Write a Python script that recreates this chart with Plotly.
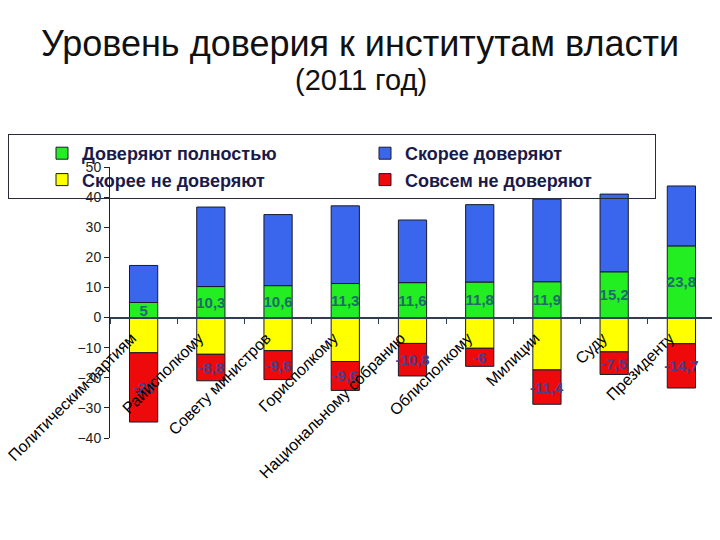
import plotly.graph_objects as go

categories = ["Политическим партиям", "Райисполкому", "Совету министров", "Горисполкому",
              "Национальному собранию", "Облисполкому", "Милиции", "Суду", "Президенту"]
trust_fully = [5, 10.3, 10.6, 11.3, 11.6, 11.8, 11.9, 15.2, 23.8]
rather_trust = [12.3, 26.4, 23.6, 25.8, 20.8, 25.7, 27.4, 25.8, 19.9]
rather_distrust = [-11.7, -12.2, -11.0, -14.6, -8.6, -10.2, -17.4, -11.4, -8.7]
fully_distrust = [-23, -8.8, -9.6, -9.6, -10.8, -6, -11.4, -7.5, -14.7]
y_ticks = [-40, -30, -20, -10, 0, 10, 20, 30, 40, 50]

def fmt(vals):
    return [("%g" % v).replace(".", ",") for v in vals]

FONT = "Liberation Sans, Arial, sans-serif"
line = dict(color="#1a1a2a", width=1)

fig = go.Figure()
fig.add_trace(go.Bar(x=categories, y=trust_fully, name="Доверяют полностью",
                     marker=dict(color="#22ee22", line=line),
                     text=fmt(trust_fully), textposition="inside", insidetextanchor="middle",
                     textangle=0, constraintext="none",
                     textfont=dict(family=FONT, size=15, color="#1f6b6b", weight="bold")))
fig.add_trace(go.Bar(x=categories, y=rather_trust, name="Скорее доверяют",
                     marker=dict(color="#3a66ee", line=line)))
fig.add_trace(go.Bar(x=categories, y=rather_distrust, name="Скорее не доверяют",
                     marker=dict(color="#ffff00", line=line)))
fig.add_trace(go.Bar(x=categories, y=fully_distrust, name="Совсем не доверяют",
                     marker=dict(color="#ee0a0a", line=line),
                     text=fmt(fully_distrust), textposition="inside", insidetextanchor="middle",
                     textangle=0, constraintext="none",
                     textfont=dict(family=FONT, size=15, color="#4a3f8f", weight="bold")))

# plot area in figure pixels
L, R, T, B = 102, 707, 159, 430
W, H = R - L, B - T
ymin, ymax = -40, 50
fig.update_layout(
    width=720, height=540,
    barmode="relative", bargap=0.58,
    paper_bgcolor="white", plot_bgcolor="white",
    margin=dict(l=L, r=720 - R, t=T, b=540 - B, autoexpand=False),
    font=dict(family=FONT, color="#222"),
    title=dict(text="Уровень доверия к институтам власти",
               x=(360 - 8) / 720, xanchor="center", xref="container",
               y=1 - 35 / 540, yanchor="middle", yref="container",
               font=dict(family=FONT, size=36, color="#111")),
    annotations=[dict(text="(2011 год)", xref="paper", yref="paper",
                      x=(353 - L) / W, y=(B - 72) / H,
                      xanchor="center", yanchor="middle", showarrow=False,
                      font=dict(family=FONT, size=29, color="#111"))],
    legend=dict(orientation="h", x=-L / W, xanchor="left", y=(B - 126) / H, yanchor="top",
                bgcolor="rgba(255,255,255,0)", bordercolor="#2a2a3a", borderwidth=1,
                entrywidth=245, entrywidthmode="pixels", indentation=33,
                font=dict(family=FONT, size=18, color="#1a1a4a", weight="bold"),
                traceorder="normal"),
    showlegend=True,
    xaxis=dict(anchor="free", position=(0 - ymin) / (ymax - ymin),
               showline=True, linecolor="#2f3f4f", linewidth=2,
               ticks="outside", tickson="boundaries", ticklen=5, tickcolor="#2f3f4f",
               tickangle=-45, ticklabelshift=-12, ticklabelstandoff=4,
               tickfont=dict(family=FONT, size=16, color="#000"),
               showgrid=False, zeroline=False),
    yaxis=dict(range=[ymin, ymax], tickvals=y_ticks, showline=True, linecolor="#222",
               linewidth=1, ticks="outside", ticklen=5, tickcolor="#222",
               tickfont=dict(family=FONT, size=14, color="#222"),
               showgrid=False, zeroline=False),
)
fig.write_html("out.html")
